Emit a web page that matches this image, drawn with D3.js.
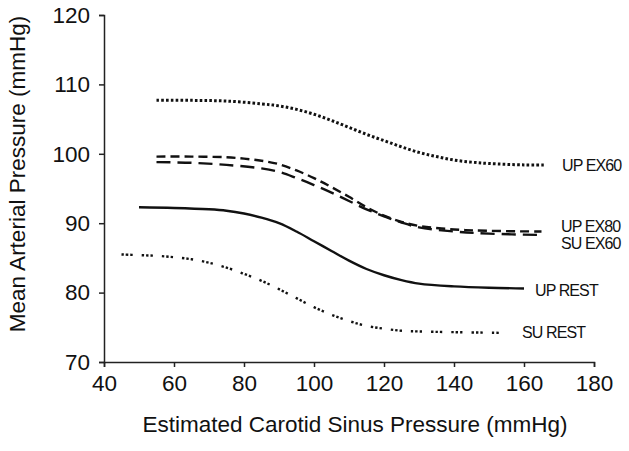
<!DOCTYPE html>
<html><head><meta charset="utf-8">
<script src="https://cdn.jsdelivr.net/npm/d3@7"></script>
<style>
html,body{margin:0;padding:0;background:#fff;}
svg{display:block;}
text{font-family:"Liberation Sans",Arial,sans-serif;fill:#111;}
</style></head>
<body>
<svg id="chart" width="629" height="451"></svg>
<script>
// ---- data ----
const xTicks = [40, 60, 80, 100, 120, 140, 160, 180];
const yTicks = [70, 80, 90, 100, 110, 120];
const seriesNames = ["UP EX60", "UP EX80", "SU EX60", "UP REST", "SU REST"];

const upEx60X = [55, 65, 75, 85, 90, 95, 100, 105, 110, 115, 120, 125, 130, 135, 140, 145, 150, 160, 166];
const upEx60Y = [107.7, 107.7, 107.6, 107.2, 106.9, 106.4, 105.7, 104.8, 103.8, 102.8, 101.9, 101.0, 100.2, 99.6, 99.1, 98.8, 98.6, 98.4, 98.4];

const upEx80X = [55, 65, 75, 80, 85, 90, 95, 100, 105, 110, 115, 120, 125, 130, 140, 150, 165];
const upEx80Y = [99.6, 99.6, 99.5, 99.3, 99.0, 98.5, 97.6, 96.5, 95.2, 93.8, 92.3, 91.1, 90.2, 89.6, 89.1, 88.9, 88.8];

const suEx60X = [55, 65, 75, 85, 90, 95, 100, 105, 110, 115, 120, 125, 130, 140, 150, 165];
const suEx60Y = [98.8, 98.7, 98.4, 97.9, 97.4, 96.5, 95.5, 94.4, 93.2, 92.0, 91.0, 90.1, 89.4, 88.8, 88.5, 88.3];

const upRestX = [50, 60, 70, 75, 80, 85, 90, 95, 100, 105, 110, 115, 120, 125, 130, 140, 150, 160];
const upRestY = [92.3, 92.2, 92.0, 91.8, 91.4, 90.8, 90.0, 88.8, 87.4, 86.0, 84.6, 83.4, 82.5, 81.8, 81.3, 80.9, 80.7, 80.6];

const suRestX = [45, 50, 55, 60, 65, 70, 75, 80, 85, 90, 95, 100, 105, 110, 115, 120, 125, 130, 140, 153];
const suRestY = [85.5, 85.4, 85.3, 85.1, 84.8, 84.3, 83.6, 82.7, 81.7, 80.5, 79.2, 77.9, 76.8, 75.9, 75.2, 74.8, 74.5, 74.4, 74.3, 74.2];

// ---- layout ----
const svg = d3.select("#chart");
const x = d3.scaleLinear().domain([40, 180]).range([104, 594]);
const y = d3.scaleLinear().domain([70, 120]).range([362, 15]);

const series = [
  {name: seriesNames[0], xs: upEx60X, ys: upEx60Y, dash: "2.6,2.2", w: 3, lx: 562, ly: 171},
  {name: seriesNames[1], xs: upEx80X, ys: upEx80Y, dash: "9,5", w: 2.4, lx: 561, ly: 232},
  {name: seriesNames[2], xs: suEx60X, ys: suEx60Y, dash: "14,7", w: 2.4, lx: 561, ly: 249},
  {name: seriesNames[3], xs: upRestX, ys: upRestY, dash: null, w: 2.4, lx: 535, ly: 296},
  {name: seriesNames[4], xs: suRestX, ys: suRestY, dash: "2.4,2,2.4,2,2.4,9", w: 2.4, lx: 522, ly: 338}
];

const line = d3.line().x(d => x(d[0])).y(d => y(d[1])).curve(d3.curveCatmullRom.alpha(0.5));

series.forEach(s => {
  const pts = s.xs.map((v, i) => [v, s.ys[i]]);
  const p = svg.append("path").datum(pts)
    .attr("d", line).attr("fill", "none")
    .attr("stroke", "#111").attr("stroke-width", s.w);
  if (s.dash) p.attr("stroke-dasharray", s.dash);
  svg.append("text").attr("x", s.lx).attr("y", s.ly)
    .attr("font-size", 16).attr("letter-spacing", "-0.9px").text(s.name);
});

// axes
const xAxis = svg.append("g").attr("transform", "translate(0,362)")
  .call(d3.axisBottom(x).tickValues(xTicks).tickSize(5).tickPadding(8).tickFormat(d3.format("d")));
const yAxis = svg.append("g").attr("transform", "translate(104,0)")
  .call(d3.axisLeft(y).tickValues(yTicks).tickSize(5).tickPadding(9).tickFormat(d3.format("d")));
[xAxis, yAxis].forEach(g => {
  g.select(".domain").attr("stroke", "#222").attr("stroke-width", 1.5);
  g.selectAll(".tick line").attr("stroke", "#222").attr("stroke-width", 1.5);
  g.selectAll(".tick text").attr("font-size", 22.5).attr("font-family", "Liberation Sans, Arial, sans-serif").attr("fill", "#111");
});

svg.append("text").attr("x", 355).attr("y", 432).attr("text-anchor", "middle")
  .attr("font-size", 22.5).text("Estimated Carotid Sinus Pressure (mmHg)");
svg.append("text").attr("transform", "translate(25,174) rotate(-90)").attr("text-anchor", "middle")
  .attr("font-size", 22.5).text("Mean Arterial Pressure (mmHg)");
</script>
</body></html>
